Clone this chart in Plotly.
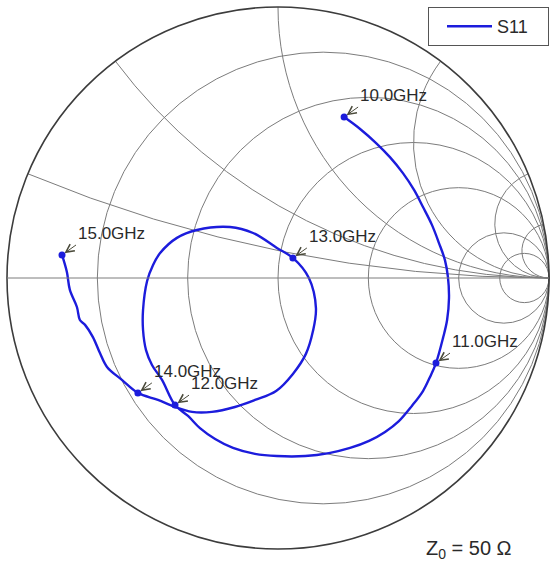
import numpy as np
import plotly.graph_objects as go

# S11 reflection coefficient, 10 GHz -> 15 GHz
s11_re = [0.244, 0.303, 0.362, 0.413, 0.461, 0.502, 0.535, 0.568, 0.594, 0.616,
          0.627, 0.631, 0.624, 0.609, 0.583, 0.561, 0.535, 0.494, 0.446, 0.395,
          0.336, 0.266, 0.188, 0.100, -0.004, -0.085, -0.166, -0.232, -0.288, -0.332,
          -0.380, -0.428, -0.465, -0.487, -0.498, -0.498, -0.483, -0.461, -0.435, -0.373,
          -0.299, -0.177, -0.092, -0.004, 0.055, 0.114, 0.140, 0.129, 0.103, 0.055,
          -0.007, -0.085, -0.159, -0.244, -0.317, -0.380, -0.443, -0.517, -0.576, -0.631,
          -0.657, -0.683, -0.712, -0.731, -0.742, -0.768, -0.779, -0.797]
s11_im = [0.594, 0.550, 0.498, 0.446, 0.387, 0.325, 0.262, 0.196, 0.129, 0.066,
          0.004, -0.074, -0.155, -0.221, -0.314, -0.365, -0.417, -0.472, -0.528, -0.568,
          -0.601, -0.627, -0.646, -0.657, -0.657, -0.649, -0.627, -0.594, -0.554, -0.509,
          -0.469, -0.376, -0.321, -0.266, -0.192, -0.118, -0.011, 0.048, 0.092, 0.148,
          0.177, 0.188, 0.166, 0.111, 0.074, 0.000, -0.111, -0.196, -0.280, -0.354,
          -0.417, -0.450, -0.476, -0.494, -0.494, -0.476, -0.450, -0.424, -0.376, -0.328,
          -0.277, -0.218, -0.173, -0.155, -0.107, -0.044, 0.022, 0.085]

# marked frequencies and their index in the S11 arrays
marker_labels = ["10.0GHz", "11.0GHz", "12.0GHz", "13.0GHz", "14.0GHz", "15.0GHz"]
marker_idx = [0, 14, 30, 44, 57, 67]

grid_vals = [0.2, 0.5, 1, 2, 5, 10]

gamma = np.array(s11_re) + 1j * np.array(s11_im)
z = (1 + gamma) / (1 - gamma)  # normalised impedance for scattersmith

BLUE = "#1c1cdc"
FONT = "Arial, Liberation Sans, sans-serif"
GRID = "#7c7c7c"

fig = go.Figure()

fig.add_trace(go.Scattersmith(
    real=z.real, imag=z.imag,
    mode="lines",
    line=dict(color=BLUE, width=2.4, shape="spline"),
    name="S11\u00a0\u00a0\u00a0",
))

fig.add_trace(go.Scattersmith(
    real=z.real[marker_idx], imag=z.imag[marker_idx],
    mode="markers",
    marker=dict(color=BLUE, size=7),
    showlegend=False,
))

# invisible cartesian overlay in reflection-coefficient units, used for the labels
fig.add_trace(go.Scatter(
    x=gamma.real[marker_idx], y=gamma.imag[marker_idx],
    mode="markers", marker=dict(opacity=0),
    showlegend=False, hoverinfo="skip",
))

for i, lab in zip(marker_idx, marker_labels):
    fig.add_annotation(
        x=gamma.real[i], y=gamma.imag[i], xref="x", yref="y",
        text=lab, showarrow=True,
        ax=14, ay=-10, xanchor="left", yanchor="bottom",
        arrowhead=5, arrowsize=1.6, arrowwidth=1, arrowcolor="#4a4a3a",
        standoff=3,
        font=dict(family=FONT, size=17, color="#2a2a2a"),
    )

fig.add_annotation(
    x=0.77, y=0.0, xref="paper", yref="paper",
    xanchor="left", yanchor="middle",
    text="Z<sub>0</sub> = 50 Ω", showarrow=False,
    font=dict(family=FONT, size=20, color="#2a2a2a"),
)

fig.update_layout(
    width=552, height=562,
    margin=dict(l=7, r=3, t=7, b=13),
    paper_bgcolor="white",
    plot_bgcolor="rgba(0,0,0,0)",
    font=dict(family=FONT, color="#2a2a2a"),
    smith=dict(
        domain=dict(x=[0, 1], y=[0, 1]),
        bgcolor="white",
        realaxis=dict(tickvals=grid_vals, showticklabels=False, ticks="",
                      gridcolor=GRID, gridwidth=1,
                      linecolor=GRID, linewidth=1),
        imaginaryaxis=dict(tickvals=grid_vals, showticklabels=False, ticks="",
                           gridcolor=GRID, gridwidth=1,
                           linecolor="#3c3c3c", linewidth=1.6),
    ),
    xaxis=dict(range=[-1, 1], visible=False, domain=[0, 1], fixedrange=True),
    yaxis=dict(range=[-1, 1], visible=False, domain=[0, 1], fixedrange=True),
    legend=dict(
        x=1.0, y=1.0, xanchor="right", yanchor="top",
        bordercolor="#555555", borderwidth=1, bgcolor="white",
        indentation=13, itemwidth=45,
        font=dict(family=FONT, size=18, color="#2a2a2a"),
    ),
    showlegend=True,
)

# the page body has a default 8px margin; drop it so the figure sits at 0,0
fig.write_html("out.html", config={"displayModeBar": False},
               post_script="document.body.style.margin='0';")
